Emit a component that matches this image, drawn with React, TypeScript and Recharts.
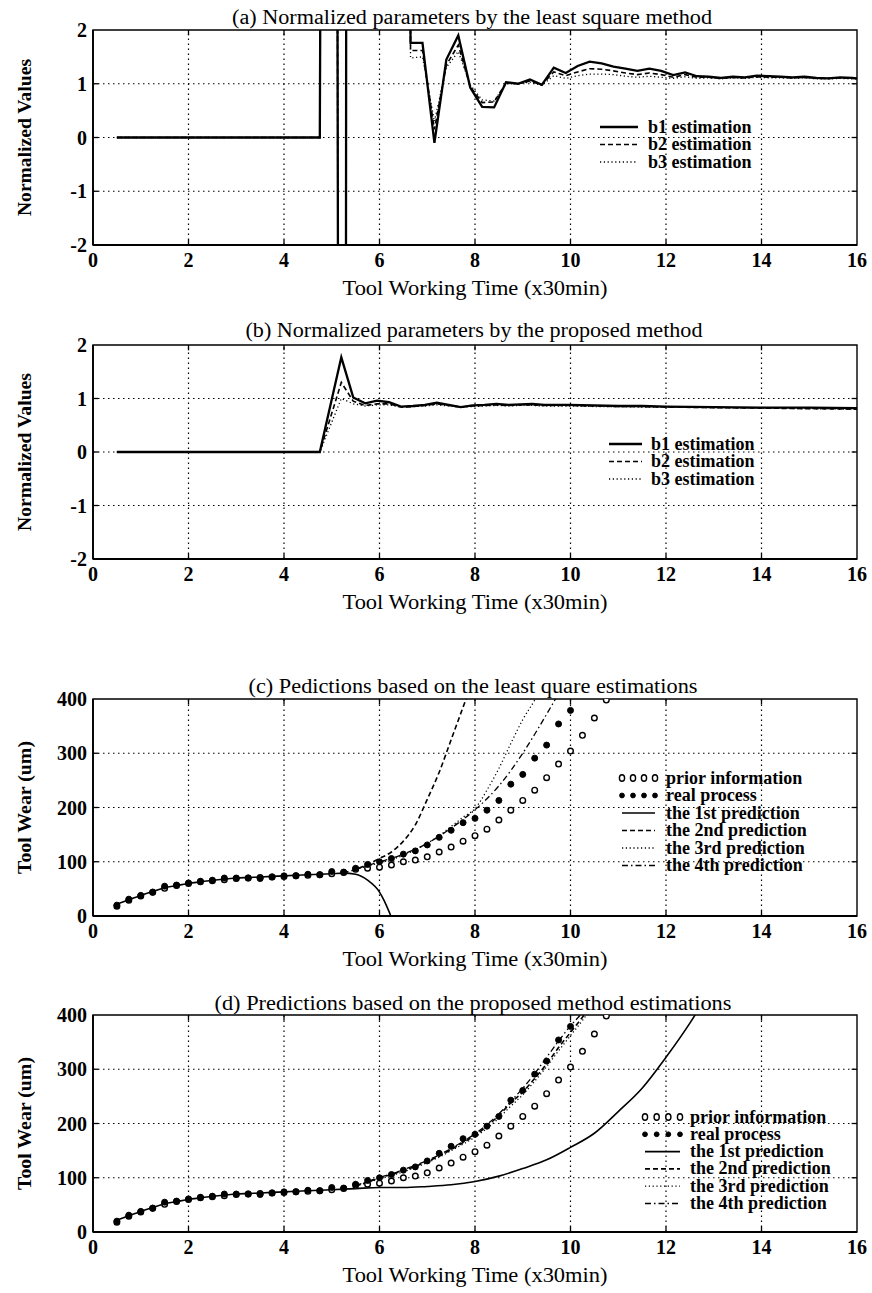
import React from 'react';
import { ComposedChart, Line, XAxis, YAxis, ReferenceArea, ReferenceLine, Legend, Label } from 'recharts';

const FONT = '"Liberation Serif", "Times New Roman", Times, serif';

// ---------- shared ticks ----------
const xTicks = [0, 2, 4, 6, 8, 10, 12, 14, 16];
const normTicks = [-2, -1, 0, 1, 2];
const wearTicks = [0, 100, 200, 300, 400];

// ---------- panel (a): least square estimates ----------
const timeA = [0.5, 4.75, 5.0, 5.25, 5.5, 5.75, 6.0, 6.25, 6.4, 6.65, 6.9, 7.15, 7.4, 7.65, 7.9, 8.15, 8.4, 8.65, 8.9, 9.15, 9.4, 9.65, 9.9, 10.15, 10.4, 10.65, 10.9, 11.15, 11.4, 11.65, 11.9, 12.15, 12.4, 12.65, 12.9, 13.15, 13.4, 13.65, 13.9, 14.15, 14.4, 14.65, 14.9, 15.15, 15.4, 15.65, 15.9, 16.0];
const b1A = [0, 0, 60, -60, 240, 80, 50, 40, 60, 1.76, 1.76, -0.1, 1.45, 1.9, 0.93, 0.57, 0.56, 1.03, 1.0, 1.08, 0.98, 1.3, 1.2, 1.33, 1.41, 1.38, 1.32, 1.28, 1.24, 1.28, 1.24, 1.16, 1.21, 1.14, 1.13, 1.11, 1.13, 1.12, 1.15, 1.14, 1.13, 1.12, 1.13, 1.11, 1.1, 1.12, 1.11, 1.1];
const b2A = [0, 0, 60, -60, 240, 80, 50, 40, 60, 1.62, 1.62, 0.15, 1.35, 1.72, 0.95, 0.65, 0.66, 1.02, 1.0, 1.05, 0.98, 1.22, 1.15, 1.22, 1.28, 1.27, 1.24, 1.2, 1.17, 1.2, 1.17, 1.12, 1.17, 1.12, 1.12, 1.1, 1.12, 1.11, 1.13, 1.12, 1.12, 1.11, 1.12, 1.1, 1.1, 1.11, 1.1, 1.1];
const b3A = [0, 0, 60, -60, 240, 80, 50, 40, 60, 1.48, 1.5, 0.3, 1.3, 1.6, 0.98, 0.7, 0.68, 1.0, 1.0, 1.03, 0.97, 1.15, 1.1, 1.15, 1.18, 1.18, 1.17, 1.14, 1.12, 1.14, 1.12, 1.1, 1.13, 1.1, 1.11, 1.09, 1.11, 1.1, 1.12, 1.11, 1.11, 1.1, 1.11, 1.09, 1.09, 1.1, 1.09, 1.09];

// ---------- panel (b): proposed method estimates ----------
const timeB = [0.5, 4.75, 5.2, 5.45, 5.7, 5.95, 6.2, 6.45, 6.7, 6.95, 7.2, 7.45, 7.7, 7.95, 8.2, 8.45, 8.7, 8.95, 9.2, 9.45, 9.7, 9.95, 10.5, 11, 11.5, 12, 13, 14, 15, 16];
const b1B = [0, 0, 1.77, 1.02, 0.91, 0.96, 0.93, 0.85, 0.86, 0.88, 0.92, 0.88, 0.84, 0.87, 0.88, 0.9, 0.88, 0.89, 0.9, 0.88, 0.88, 0.88, 0.87, 0.86, 0.86, 0.85, 0.84, 0.83, 0.83, 0.82];
const b2B = [0, 0, 1.3, 0.95, 0.87, 0.9, 0.9, 0.84, 0.85, 0.87, 0.9, 0.87, 0.84, 0.86, 0.87, 0.88, 0.87, 0.88, 0.88, 0.87, 0.87, 0.87, 0.86, 0.85, 0.85, 0.84, 0.83, 0.82, 0.81, 0.8];
const b3B = [0, 0, 1.0, 0.9, 0.86, 0.88, 0.88, 0.84, 0.85, 0.86, 0.88, 0.86, 0.84, 0.85, 0.86, 0.87, 0.86, 0.87, 0.87, 0.86, 0.86, 0.86, 0.85, 0.85, 0.84, 0.84, 0.83, 0.82, 0.81, 0.8];

// ---------- tool wear (c) and (d) ----------
const timeWear = [0.5, 0.75, 1, 1.25, 1.5, 1.75, 2, 2.25, 2.5, 2.75, 3, 3.25, 3.5, 3.75, 4, 4.25, 4.5, 4.75, 5, 5.25, 5.5, 5.75, 6, 6.25, 6.5, 6.75, 7, 7.25, 7.5, 7.75, 8, 8.25, 8.5, 8.75, 9, 9.25, 9.5, 9.75, 10, 10.25, 10.5, 10.75];
const priorWear = [18, 29, 37, 44, 51, 56, 60, 63, 65, 67, 69, 70, 71, 72, 73, 74, 75, 76, 78, 80, 86, 88, 90, 94, 100, 103, 109, 118, 127, 138, 148, 160, 177, 195, 213, 232, 255, 280, 304, 333, 365, 398];
const timeReal = [0.5, 0.75, 1, 1.25, 1.5, 1.75, 2, 2.25, 2.5, 2.75, 3, 3.25, 3.5, 3.75, 4, 4.25, 4.5, 4.75, 5, 5.25, 5.5, 5.75, 6, 6.25, 6.5, 6.75, 7, 7.25, 7.5, 7.75, 8, 8.25, 8.5, 8.75, 9, 9.25, 9.5, 9.75, 10];
const realWear = [20, 31, 38, 44, 55, 57, 61, 64, 66, 70, 70, 70, 69, 72, 74, 74, 77, 76, 82, 81, 88, 95, 100, 106, 114, 120, 131, 145, 158, 172, 180, 195, 213, 243, 261, 291, 315, 354, 379];

// (c) predictions from least-square estimates
const time1C = [0.5, 0.75, 1, 1.25, 1.5, 1.75, 2, 2.25, 2.5, 2.75, 3, 3.25, 3.5, 3.75, 4, 4.25, 4.5, 4.75, 5, 5.25, 5.5, 5.75, 6, 6.1, 6.2, 6.3];
const pred1C = [22, 30, 38, 45, 52, 56, 60, 63, 66, 68, 70, 71, 72, 73, 74, 75, 76, 77, 78, 79, 77, 66, 44, 28, 8, -15];
const time2C = [5.25, 5.5, 5.75, 6, 6.25, 6.5, 6.75, 7, 7.25, 7.5, 7.75, 8];
const pred2C = [80, 86, 95, 106, 118, 138, 168, 215, 265, 325, 385, 445];
const time3C = [5.5, 5.75, 6, 6.25, 6.5, 6.75, 7, 7.25, 7.5, 7.75, 8, 8.25, 8.5, 8.75, 9, 9.25, 9.5];
const pred3C = [86, 92, 98, 104, 112, 122, 134, 148, 165, 182, 198, 232, 272, 318, 362, 398, 440];
const time4C = [5.5, 5.75, 6, 6.25, 6.5, 6.75, 7, 7.25, 7.5, 7.75, 8, 8.25, 8.5, 8.75, 9, 9.25, 9.5, 9.75];
const pred4C = [87, 93, 100, 106, 114, 123, 134, 147, 162, 178, 196, 216, 240, 268, 300, 335, 372, 410];

// (d) predictions from proposed estimates
const time1D = [0.5, 0.75, 1, 1.25, 1.5, 1.75, 2, 2.25, 2.5, 2.75, 3, 3.25, 3.5, 3.75, 4, 4.25, 4.5, 4.75, 5, 5.25, 5.5, 6, 6.5, 7, 7.5, 8, 8.5, 9, 9.5, 10, 10.5, 11, 11.5, 12, 12.5, 12.75];
const pred1D = [22, 30, 38, 45, 52, 56, 60, 63, 66, 68, 70, 71, 72, 73, 74, 75, 76, 77, 78, 79, 80, 82, 82, 84, 87, 93, 103, 117, 133, 156, 182, 222, 265, 322, 385, 420];
const timeLaterD = [5.5, 5.75, 6, 6.25, 6.5, 6.75, 7, 7.25, 7.5, 7.75, 8, 8.25, 8.5, 8.75, 9, 9.25, 9.5, 9.75, 10, 10.25, 10.5];
const pred2D = [85, 92, 100, 106, 113, 121, 130, 140, 152, 165, 178, 195, 215, 238, 258, 283, 310, 340, 368, 396, 428];
const pred3D = [85, 91, 98, 104, 111, 119, 128, 138, 150, 162, 175, 191, 210, 232, 253, 278, 305, 334, 362, 390, 420];
const pred4D = [86, 93, 101, 107, 115, 123, 132, 142, 154, 167, 181, 198, 218, 241, 265, 292, 322, 352, 380, 405, 440];

// ---------- labels ----------
const xLabelText = 'Tool Working Time (x30min)';
const normLabel = 'Normalized Values';
const wearLabel = 'Tool Wear (um)';
const titles = [
  '(a) Normalized parameters by the least square method',
  '(b) Normalized parameters by the proposed method',
  '(c) Pedictions based on the least quare estimations',
  '(d) Predictions based on the proposed method estimations',
];
const paramLegend = ['b1 estimation', 'b2 estimation', 'b3 estimation'];
const wearLegend = ['prior information', 'real process', 'the 1st prediction', 'the 2nd prediction', 'the 3rd prediction', 'the 4th prediction'];

// ---------- helpers ----------
const zip = (t: number[], v: number[]) => t.map((x, i) => ({ t: x, v: v[i] }));

type Kind = 'thick' | 'solid' | 'dash' | 'dot' | 'dashdot' | 'open' | 'filled';
const LINESTYLE: Record<string, { dash?: string; w: number }> = {
  thick: { w: 2.3 },
  solid: { w: 1.6 },
  dash: { dash: '5 3', w: 1.6 },
  dot: { dash: '1.2 2.6', w: 1.3 },
  dashdot: { dash: '6 3 1.5 3', w: 1.3 },
};

type Series = { name: string; data: { t: number; v: number }[]; kind: Kind; curve?: 'linear' | 'monotone' };

type LegendCfg = { left: number; top: number; sx1: number; sx2: number; tx: number; rowH: number };

function LegendBox({ items, kinds, cfg }: { items: string[]; kinds: Kind[]; cfg: LegendCfg }) {
  const h = items.length * cfg.rowH + 20;
  return (
    <svg width={280} height={h} style={{ display: 'block', overflow: 'visible' }}>
      {items.map((label, i) => {
        const cy = 10 + i * cfg.rowH;
        const x1 = cfg.sx1 - cfg.left;
        const x2 = cfg.sx2 - cfg.left;
        const k = kinds[i];
        let sample: React.ReactNode = null;
        if (k === 'open' || k === 'filled') {
          const step = (x2 - x1) / 3;
          sample = [0, 1, 2, 3].map((j) => (
            <ellipse key={j} cx={x1 + j * step} cy={cy} rx={k === 'open' ? 2.6 : 2.4} ry={k === 'open' ? 3.2 : 2.4}
              fill={k === 'open' ? '#fff' : '#000'} stroke="#000" strokeWidth={k === 'open' ? 1.4 : 1} />
          ));
        } else {
          const st = LINESTYLE[k];
          sample = <line x1={x1} x2={x2} y1={cy} y2={cy} stroke="#000" strokeWidth={st.w} strokeDasharray={st.dash} />;
        }
        return (
          <g key={label}>
            {sample}
            <text x={cfg.tx - cfg.left} y={cy + 5.5} fontFamily={FONT} fontSize={18} fontWeight="bold" fill="#000">{label}</text>
          </g>
        );
      })}
    </svg>
  );
}

const tickStyle = { fontFamily: FONT, fontSize: 20, fontWeight: 'bold', fill: '#000' } as any;

const xLabelRender = (props: any) => {
  const vb = props.viewBox || {};
  return (
    <text x={vb.x + vb.width / 2} y={vb.y + 50} textAnchor="middle" fontFamily={FONT} fontSize={21}
      textLength={265} lengthAdjust="spacingAndGlyphs" fill="#000">{xLabelText}</text>
  );
};

const makeYLabel = (text: string, len: number) => (props: any) => {
  const vb = props.viewBox || {};
  const cy = vb.y + vb.height / 2;
  const cx = 24;
  return (
    <text x={cx} y={cy} transform={`rotate(-90, ${cx}, ${cy})`} textAnchor="middle" dominantBaseline="central"
      fontFamily={FONT} fontSize={19} fontWeight="bold" textLength={len} lengthAdjust="spacingAndGlyphs" fill="#000">{text}</text>
  );
};

type PanelProps = {
  top: number; height: number; mt: number; mb: number;
  yDomain: [number, number]; yTicks: number[]; yLabel: string; yLabelLen: number;
  series: Series[]; legendItems: string[]; legend: LegendCfg;
};

const GRID = { stroke: '#000', strokeWidth: 1.2, strokeDasharray: '1.5 3.5' };
const INTICK = { stroke: '#000', strokeWidth: 1.3 };

function Panel(p: PanelProps) {
  const kinds = p.series.map((s) => s.kind);
  const [y0, y1] = p.yDomain;
  const dy = (y1 - y0) * 0.025; // inward tick length in data units (y)
  const dx = 16 * 0.007; // inward tick length in data units (x)
  return (
    <div style={{ position: 'absolute', left: 0, top: p.top, width: 872, height: p.height }}>
      <ComposedChart width={872} height={p.height} margin={{ top: p.mt, right: 15, bottom: p.mb, left: 33 }}>
        <XAxis type="number" dataKey="t" domain={[0, 16]} ticks={xTicks} interval={0} allowDataOverflow height={30}
          tickLine={false} axisLine={{ stroke: '#000', strokeWidth: 1.8 }} tick={tickStyle}>
          <Label content={xLabelRender} />
        </XAxis>
        <YAxis type="number" domain={p.yDomain} ticks={p.yTicks} interval={0} allowDataOverflow width={60}
          tickLine={false} tickMargin={0} axisLine={{ stroke: '#000', strokeWidth: 1.8 }} tick={tickStyle}>
          <Label content={makeYLabel(p.yLabel, p.yLabelLen)} />
        </YAxis>
        {xTicks.slice(1, -1).map((t) => (
          <ReferenceLine key={'gx' + t} x={t} {...GRID} />
        ))}
        {p.yTicks.slice(1, -1).map((t) => (
          <ReferenceLine key={'gy' + t} y={t} {...GRID} />
        ))}
        {xTicks.slice(1, -1).map((t) => (
          <ReferenceLine key={'tb' + t} segment={[{ x: t, y: y0 }, { x: t, y: y0 + dy }]} {...INTICK} />
        ))}
        {xTicks.slice(1, -1).map((t) => (
          <ReferenceLine key={'tt' + t} segment={[{ x: t, y: y1 }, { x: t, y: y1 - dy }]} {...INTICK} />
        ))}
        {p.yTicks.slice(1, -1).map((t) => (
          <ReferenceLine key={'tl' + t} segment={[{ x: 0, y: t }, { x: dx, y: t }]} {...INTICK} />
        ))}
        {p.yTicks.slice(1, -1).map((t) => (
          <ReferenceLine key={'tr' + t} segment={[{ x: 16, y: t }, { x: 16 - dx, y: t }]} {...INTICK} />
        ))}
        <ReferenceArea x1={0} x2={16} y1={y0} y2={y1} fill="none" fillOpacity={0} stroke="#000" strokeWidth={1.4} />
        {p.series.map((s) => {
          if (s.kind === 'open' || s.kind === 'filled') {
            const open = s.kind === 'open';
            return (
              <Line key={s.name} name={s.name} data={s.data} dataKey="v" type="linear" stroke="none" strokeWidth={0}
                dot={{ r: open ? 2.8 : 3, fill: open ? '#fff' : '#000', stroke: '#000', strokeWidth: open ? 1.4 : 1 }}
                activeDot={false} isAnimationActive={false} legendType="none" />
            );
          }
          const st = LINESTYLE[s.kind];
          return (
            <Line key={s.name} name={s.name} data={s.data} dataKey="v" type={s.curve || 'linear'} stroke="#000"
              strokeWidth={st.w} strokeDasharray={st.dash} dot={false} activeDot={false} isAnimationActive={false} legendType="none" />
          );
        })}
        <Legend layout="vertical" align="center" verticalAlign="middle"
          wrapperStyle={{ left: p.legend.left, top: p.legend.top, width: 280 }}
          content={() => <LegendBox items={p.legendItems} kinds={kinds} cfg={p.legend} />} />
      </ComposedChart>
    </div>
  );
}

const seriesA: Series[] = [
  { name: 'b1', data: zip(timeA, b1A), kind: 'thick' },
  { name: 'b2', data: zip(timeA, b2A), kind: 'dash' },
  { name: 'b3', data: zip(timeA, b3A), kind: 'dot' },
];
const seriesB: Series[] = [
  { name: 'b1', data: zip(timeB, b1B), kind: 'thick' },
  { name: 'b2', data: zip(timeB, b2B), kind: 'dash' },
  { name: 'b3', data: zip(timeB, b3B), kind: 'dot' },
];
const seriesC: Series[] = [
  { name: 'prior', data: zip(timeWear, priorWear), kind: 'open' },
  { name: 'real', data: zip(timeReal, realWear), kind: 'filled' },
  { name: 'p1', data: zip(time1C, pred1C), kind: 'solid', curve: 'monotone' },
  { name: 'p2', data: zip(time2C, pred2C), kind: 'dash', curve: 'monotone' },
  { name: 'p3', data: zip(time3C, pred3C), kind: 'dot', curve: 'monotone' },
  { name: 'p4', data: zip(time4C, pred4C), kind: 'dashdot', curve: 'monotone' },
];
const seriesD: Series[] = [
  { name: 'prior', data: zip(timeWear, priorWear), kind: 'open' },
  { name: 'real', data: zip(timeReal, realWear), kind: 'filled' },
  { name: 'p1', data: zip(time1D, pred1D), kind: 'solid', curve: 'monotone' },
  { name: 'p2', data: zip(timeLaterD, pred2D), kind: 'dash', curve: 'monotone' },
  { name: 'p3', data: zip(timeLaterD, pred3D), kind: 'dot', curve: 'monotone' },
  { name: 'p4', data: zip(timeLaterD, pred4D), kind: 'dashdot', curve: 'monotone' },
];

const titlePos = [
  { x: 472, y: 24, w: 480 },
  { x: 474, y: 337, w: 457 },
  { x: 473, y: 693, w: 449 },
  { x: 473, y: 1010, w: 517 },
];

export default function App() {
  return (
    <div style={{ position: 'absolute', left: 0, top: 0, width: 872, height: 1293, background: '#fff', overflow: 'hidden' }}>
      <Panel top={0} height={310} mt={30} mb={35} yDomain={[-2, 2]} yTicks={normTicks} yLabel={normLabel} yLabelLen={157}
        series={seriesA} legendItems={paramLegend}
        legend={{ left: 596, top: 117, sx1: 600, sx2: 638, tx: 648, rowH: 17.5 }} />
      <Panel top={320} height={310} mt={25} mb={41} yDomain={[-2, 2]} yTicks={normTicks} yLabel={normLabel} yLabelLen={158}
        series={seriesB} legendItems={paramLegend}
        legend={{ left: 605, top: 114, sx1: 609, sx2: 642, tx: 651, rowH: 17.5 }} />
      <Panel top={650} height={340} mt={49} mb={44} yDomain={[0, 400]} yTicks={wearTicks} yLabel={wearLabel} yLabelLen={133}
        series={seriesC} legendItems={wearLegend}
        legend={{ left: 616, top: 118, sx1: 622, sx2: 655, tx: 666, rowH: 17.5 }} />
      <Panel top={990} height={303} mt={25} mb={31} yDomain={[0, 400]} yTicks={wearTicks} yLabel={wearLabel} yLabelLen={133}
        series={seriesD} legendItems={wearLegend}
        legend={{ left: 638, top: 117, sx1: 645, sx2: 680, tx: 690, rowH: 17.3 }} />
      <svg width={872} height={1293} style={{ position: 'absolute', left: 0, top: 0, pointerEvents: 'none' }}>
        {titles.map((t, i) => (
          <text key={t} x={titlePos[i].x} y={titlePos[i].y} textAnchor="middle" fontFamily={FONT} fontSize={20}
            textLength={titlePos[i].w} lengthAdjust="spacingAndGlyphs" fill="#000">{t}</text>
        ))}
      </svg>
    </div>
  );
}
